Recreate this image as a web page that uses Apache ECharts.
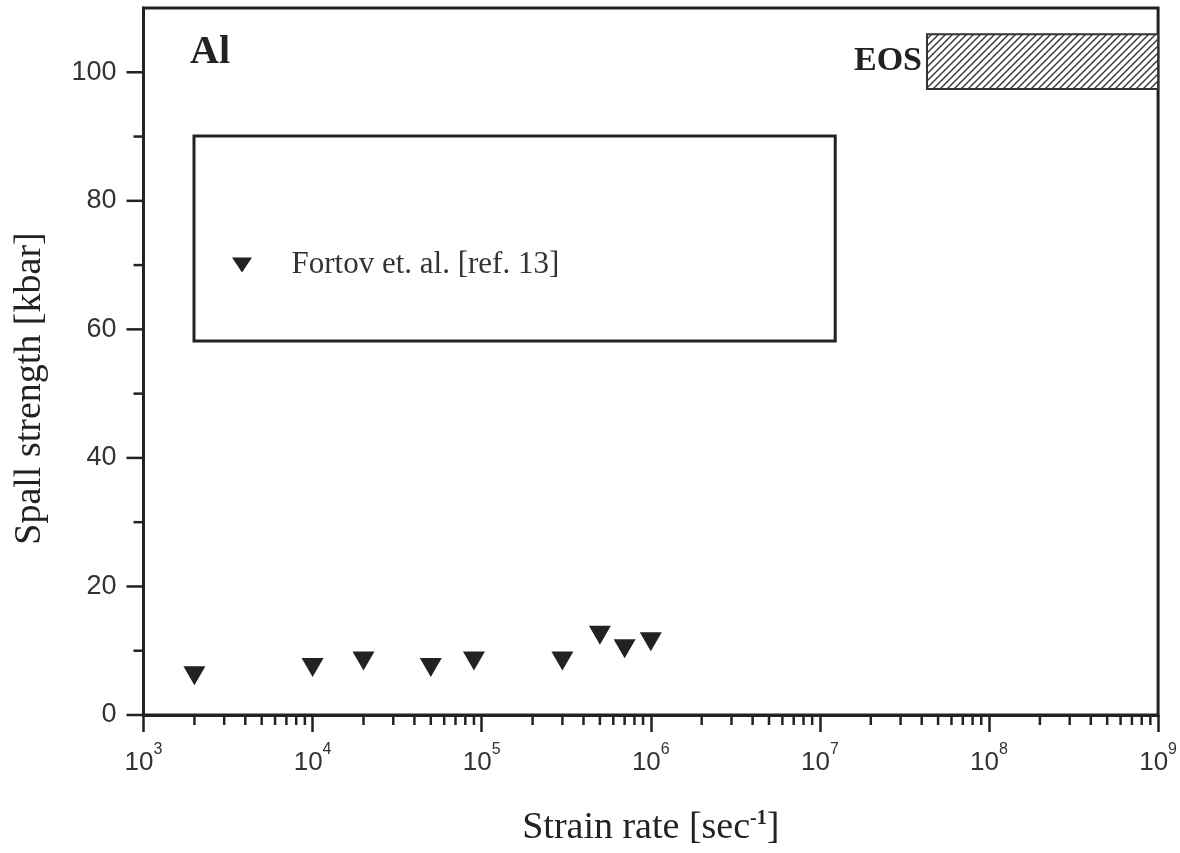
<!DOCTYPE html>
<html>
<head>
<meta charset="utf-8">
<script src="https://cdn.jsdelivr.net/npm/echarts@6/dist/echarts.min.js"></script>
<style>html,body{margin:0;padding:0;background:#fff;}#c{width:1180px;height:853px;}</style>
</head>
<body>
<div id="c"></div>
<script>
// ---- data ----
const seriesName = 'Fortov et. al. [ref. 13]';
const strainRate = [2e3, 1e4, 2e4, 5e4, 9e4, 3e5, 5e5, 7e5, 1e6];
const spallStrength = [6.1, 7.4, 8.4, 7.4, 8.4, 8.4, 12.4, 10.3, 11.4];
const eosStrainRange = [4.3e7, 1e9];
const eosStrengthRange = [97.4, 105.9];
const eosLabel = 'EOS';
const materialLabel = 'Al';
const yMajorTicks = [0, 20, 40, 60, 80, 100];
const yMinorTicks = [10, 30, 50, 70, 90];
const xDecades = [1e3, 1e4, 1e5, 1e6, 1e7, 1e8];
const xMinorMultipliers = [2, 3, 4, 5, 6, 7, 8, 9];
const xAxisTitle = '{n|Strain rate [sec}{s|-1}{n|]}';
const yAxisTitle = 'Spall strength [kbar]';

// ---- build ----
const tickData = [];
xDecades.forEach(d => xMinorMultipliers.forEach(m => tickData.push([d * m, 0, 0])));
yMajorTicks.forEach(v => tickData.push([1e3, v, 1]));
yMinorTicks.forEach(v => tickData.push([1e3, v, 2]));

const hatch = document.createElement('canvas');
hatch.width = 7; hatch.height = 7;
(function () {
  const g = hatch.getContext('2d');
  g.fillStyle = '#fff'; g.fillRect(0, 0, 7, 7);
  g.strokeStyle = '#333'; g.lineWidth = 1.4;
  g.beginPath();
  g.moveTo(0, 7); g.lineTo(7, 0);
  g.moveTo(-1, 1); g.lineTo(1, -1);
  g.moveTo(6, 8); g.lineTo(8, 6);
  g.stroke();
})();

const INK = '#222';
const chart = echarts.init(document.getElementById('c'), null, {renderer: 'canvas'});
chart.setOption({
  animation: false,
  backgroundColor: '#fff',
  title: {
    text: materialLabel, left: 185, top: 28,
    textStyle: {fontFamily: 'Liberation Serif', fontWeight: 'bold', fontSize: 40, color: INK}
  },
  grid: {left: 143.5, right: 20, top: 8, bottom: 138, show: true, borderColor: INK, borderWidth: 3},
  legend: {
    left: 194, top: 136,
    orient: 'vertical',
    borderColor: INK, borderWidth: 3,
    padding: [113, 276, 60, 38],
    itemWidth: 21, itemHeight: 15,
    data: [{name: seriesName, icon: 'path://M0,0L2,0L1,1.5Z', itemStyle: {color: INK, opacity: 1}}],
    formatter: n => '{g|}{t|' + n + '}',
    textStyle: {
      color: '#333', fontFamily: 'Liberation Serif', fontSize: 31, lineHeight: 32,
      rich: {g: {width: 34}, t: {fontFamily: 'Liberation Serif', fontSize: 31, color: '#333'}}
    }
  },
  xAxis: {
    type: 'log', logBase: 10, min: 1e3, max: 1e9, splitNumber: 6,
    name: xAxisTitle, nameLocation: 'middle', nameGap: 94,
    nameTextStyle: {
      color: INK,
      rich: {
        n: {fontFamily: 'Liberation Serif', fontSize: 38, color: INK},
        s: {fontFamily: 'Liberation Serif', fontSize: 20, color: INK, verticalAlign: 'top', fontWeight: 'bold'}
      }
    },
    axisLine: {lineStyle: {color: INK, width: 3}},
    axisTick: {show: true, inside: false, length: 17, lineStyle: {color: INK, width: 2.5}},
    splitLine: {show: false},
    axisLabel: {
      margin: 27,
      formatter: v => '{b|10}{s|' + Math.round(Math.log10(v)) + '}',
      rich: {
        b: {fontFamily: 'Liberation Sans', fontSize: 26, color: '#333', padding: [8, 0, 0, 0]},
        s: {fontFamily: 'Liberation Sans', fontSize: 16, color: '#333', verticalAlign: 'top'}
      }
    }
  },
  yAxis: {
    type: 'value', min: 0, max: 110, interval: 20,
    name: yAxisTitle, nameLocation: 'middle', nameGap: 94,
    nameTextStyle: {fontFamily: 'Liberation Serif', fontSize: 38, color: INK, padding: [0, 54, 0, 0]},
    axisLine: {lineStyle: {color: INK, width: 3}},
    axisTick: {show: false},
    splitLine: {show: false},
    axisLabel: {
      margin: 27, showMaxLabel: false,
      fontFamily: 'Liberation Sans', fontSize: 27, color: '#333',
      formatter: v => (v > 100 ? '' : String(v))
    }
  },
  series: [
    {
      type: 'custom', name: 'ticks', silent: true, clip: false, z: 3,
      encode: {x: 0, y: 1},
      data: tickData,
      renderItem: (params, api) => {
        const kind = api.value(2);
        const p = api.coord([api.value(0), api.value(1)]);
        let shape;
        if (kind === 0) shape = {x1: p[0], y1: p[1], x2: p[0], y2: p[1] + 10};
        else if (kind === 1) shape = {x1: p[0] - 17, y1: p[1], x2: p[0], y2: p[1]};
        else shape = {x1: p[0] - 10, y1: p[1], x2: p[0], y2: p[1]};
        return {type: 'line', shape: shape, style: {stroke: INK, lineWidth: 2.5}};
      }
    },
    {
      type: 'scatter', name: seriesName,
      symbol: 'path://M0,0L2,0L1,1.7Z', symbolSize: [22, 19],
      itemStyle: {color: INK, opacity: 1},
      data: strainRate.map((x, i) => [x, spallStrength[i]]),
      markArea: {
        silent: true,
        itemStyle: {color: {image: hatch, repeat: 'repeat'}, borderColor: '#333', borderWidth: 2, opacity: 1},
        label: {
          show: true, position: 'left', distance: 4, formatter: eosLabel,
          fontFamily: 'Liberation Serif', fontWeight: 'bold', fontSize: 34, color: INK
        },
        data: [[
          {coord: [eosStrainRange[0], eosStrengthRange[1]]},
          {coord: [eosStrainRange[1], eosStrengthRange[0]]}
        ]]
      }
    }
  ]
});
</script>
</body>
</html>
